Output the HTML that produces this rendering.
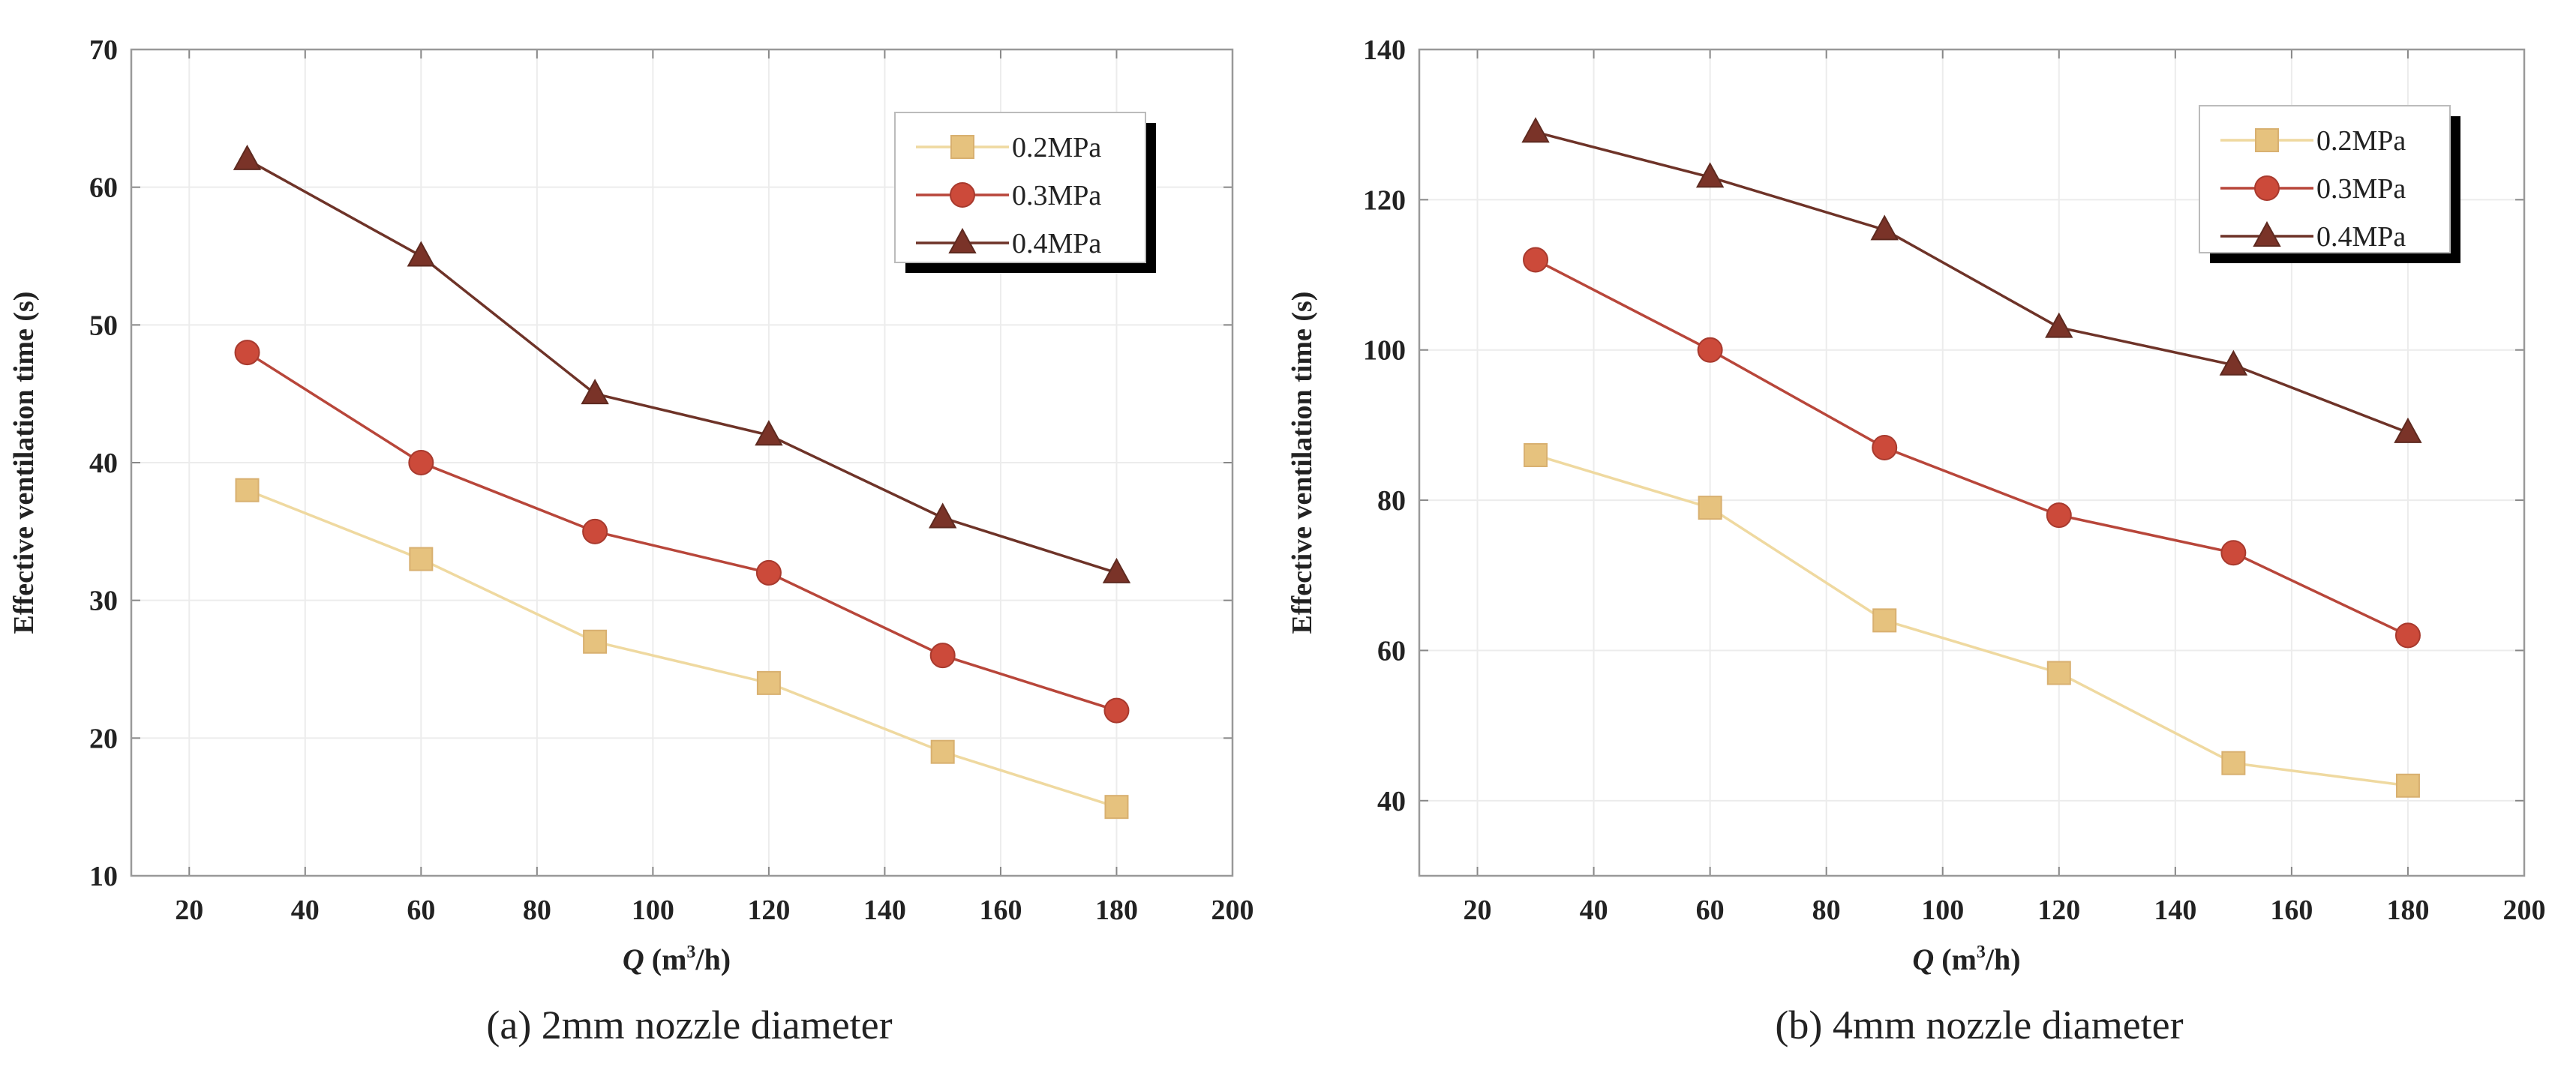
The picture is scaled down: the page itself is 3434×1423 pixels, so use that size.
<!DOCTYPE html>
<html><head><meta charset="utf-8"><style>
html,body{margin:0;padding:0;background:#fff;}
svg{display:block;font-family:"Liberation Serif",serif;}
</style></head><body>
<svg id="fig" width="3434" height="1423" viewBox="0 0 3434 1423" xmlns="http://www.w3.org/2000/svg"></svg>
<script>
const categories = [30, 60, 90, 120, 150, 180];
const seriesNames = ["0.2MPa", "0.3MPa", "0.4MPa"];
const leftS02 = [38, 33, 27, 24, 19, 15];
const leftS03 = [48, 40, 35, 32, 26, 22];
const leftS04 = [62, 55, 45, 42, 36, 32];
const rightS02 = [86, 79, 64, 57, 45, 42];
const rightS03 = [112, 100, 87, 78, 73, 62];
const rightS04 = [129, 123, 116, 103, 98, 89];
const xTicks = [20, 40, 60, 80, 100, 120, 140, 160, 180, 200];
const leftYTicks = [10, 20, 30, 40, 50, 60, 70];
const rightYTicks = [40, 60, 80, 100, 120, 140];

const NS = "http://www.w3.org/2000/svg";
const svg = document.getElementById("fig");
function mk(tag, attrs, parent, text){
  const e = document.createElementNS(NS, tag);
  for (const k in attrs) e.setAttribute(k, attrs[k]);
  if (text !== undefined) e.textContent = text;
  (parent || svg).appendChild(e);
  return e;
}
const styles = [
  {line:"#efd9a0", fill:"#e6c27e", stroke:"#d8b070", shape:"square"},
  {line:"#b8463a", fill:"#cc4a3a", stroke:"#a83a2e", shape:"circle"},
  {line:"#6e3328", fill:"#7a3328", stroke:"#5e2a20", shape:"triangle"}
];
function marker(g, shape, x, y, st){
  let m;
  if (shape === "square") m = mk("rect", {x:x-15, y:y-15, width:30, height:30, fill:st.fill, stroke:st.stroke, "stroke-width":2}, g);
  else if (shape === "circle") m = mk("circle", {cx:x, cy:y, r:16, fill:st.fill, stroke:st.stroke, "stroke-width":2}, g);
  else m = mk("polygon", {points:`${x},${y-18} ${x+17},${y+13} ${x-17},${y+13}`, fill:st.fill, stroke:st.stroke, "stroke-width":2}, g);
  return m;
}
function panel(cfg){
  const g = mk("g", {});
  
  
  const {L, R, T, B, xmin, xmax, ymin, ymax} = cfg;
  const sx = v => L + (v - xmin) / (xmax - xmin) * (R - L);
  const sy = v => B - (v - ymin) / (ymax - ymin) * (B - T);
  // grid
  xTicks.forEach(t => {
    const gl = mk("line", {x1:sx(t), x2:sx(t), y1:T, y2:B, stroke:"#ececec", "stroke-width":2}, g);
    
    
    mk("line", {x1:sx(t), x2:sx(t), y1:B, y2:B-12, stroke:"#888", "stroke-width":2}, g);
    mk("line", {x1:sx(t), x2:sx(t), y1:T, y2:T+12, stroke:"#888", "stroke-width":2}, g);
    const tl = mk("text", {x:sx(t), y:B+58, "text-anchor":"middle", "font-size":38, "font-weight":"bold", fill:"#222"}, g, t);
    
    
  });
  cfg.yTicks.forEach(t => {
    const gl = mk("line", {x1:L, x2:R, y1:sy(t), y2:sy(t), stroke:"#ececec", "stroke-width":2}, g);
    
    
    mk("line", {x1:L, x2:L+12, y1:sy(t), y2:sy(t), stroke:"#888", "stroke-width":2}, g);
    mk("line", {x1:R, x2:R-12, y1:sy(t), y2:sy(t), stroke:"#888", "stroke-width":2}, g);
    const tl = mk("text", {x:L-18, y:sy(t)+13, "text-anchor":"end", "font-size":38, "font-weight":"bold", fill:"#222"}, g, t);
    
    
  });
  const box = mk("rect", {x:L, y:T, width:R-L, height:B-T, fill:"none", stroke:"#999", "stroke-width":2.5}, g);
  
  
  // series
  cfg.series.forEach((vals, i) => {
    const st = styles[i];
    const sg = mk("g", {}, g);
    
    
    const pts = vals.map((v, j) => sx(categories[j]) + "," + sy(v)).join(" ");
    const pl = mk("polyline", {points:pts, fill:"none", stroke:st.line, "stroke-width":3.5}, sg);
    
    
    vals.forEach((v, j) => {
      const m = marker(sg, st.shape, sx(categories[j]), sy(v), st);
      
      
    });
  });
  // axis titles
  const xt = mk("text", {x:(L+R)/2 - 40 + 33, y:1293, "text-anchor":"middle", "font-size":40, "font-weight":"bold", fill:"#222"}, g);
  
  
  mk("tspan", {"font-style":"italic"}, xt, "Q");
  mk("tspan", {}, xt, " (m");
  mk("tspan", {"font-size":24, dy:-16}, xt, "3");
  mk("tspan", {dy:16}, xt, "/h)");
  const yt = mk("text", {x:0, y:0, "text-anchor":"middle", "font-size":38, "font-weight":"bold", fill:"#222",
    transform:`translate(${cfg.ytX},${(T+B)/2}) rotate(-90)`}, g, "Effective ventilation time (s)");
  
  
  const cap = mk("text", {x:(L+R)/2 + 10, y:1385, "text-anchor":"middle", "font-size":54, fill:"#222"}, g, cfg.caption);
  
  
  // legend
  const lg = mk("g", {}, g);
  
  
  const {lx, ly, lw, lh} = cfg.legend;
  mk("rect", {x:lx+14, y:ly+14, width:lw, height:lh, fill:"#000"}, lg);
  mk("rect", {x:lx, y:ly, width:lw, height:lh, fill:"#fff", stroke:"#bbb", "stroke-width":2}, lg);
  seriesNames.forEach((n, i) => {
    const st = styles[i];
    const ey = ly + 46 + i * 64;
    const le = mk("g", {}, lg);
    
    
    mk("line", {x1:lx+28, x2:lx+152, y1:ey, y2:ey, stroke:st.line, "stroke-width":3.5}, le);
    marker(le, st.shape, lx+90, ey, st);
    mk("text", {x:lx+156, y:ey+13, "font-size":38, fill:"#222"}, le, n);
  });
}
panel({name:"panel-a", L:175, R:1643, T:66, B:1168, xmin:10, xmax:200, ymin:10, ymax:70,
  yTicks:leftYTicks, series:[leftS02, leftS03, leftS04], ytX:44,
  caption:"(a) 2mm nozzle diameter", legend:{lx:1193, ly:150, lw:334, lh:200}});
panel({name:"panel-b", L:1892, R:3365, T:66, B:1168, xmin:10, xmax:200, ymin:30, ymax:140,
  yTicks:rightYTicks, series:[rightS02, rightS03, rightS04], ytX:1748,
  caption:"(b) 4mm nozzle diameter", legend:{lx:2932, ly:141, lw:334, lh:196}});
</script>
</body></html>
